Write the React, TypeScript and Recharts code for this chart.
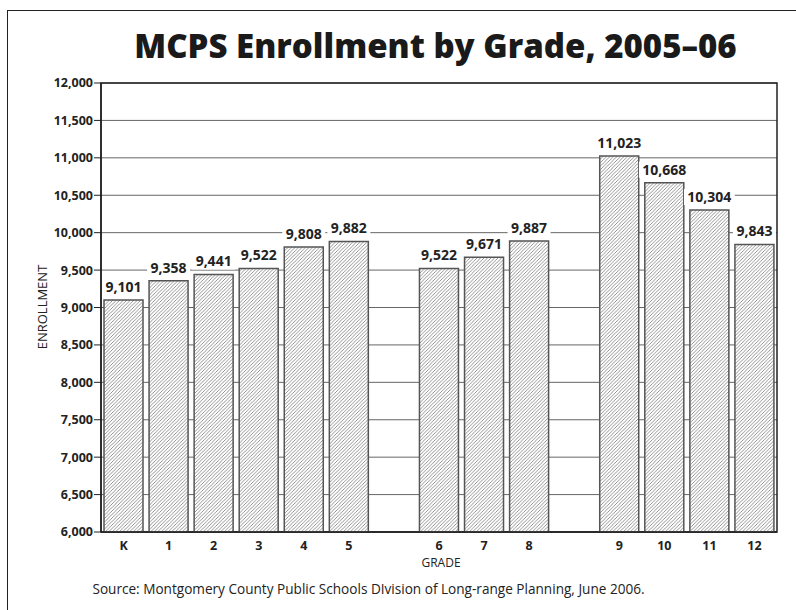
import { BarChart, Bar, XAxis, YAxis, CartesianGrid, ReferenceArea, LabelList } from "recharts";

const grades = ["K", "1", "2", "3", "4", "5", "6", "7", "8", "9", "10", "11", "12"];
const enrollment = [9101, 9358, 9441, 9522, 9808, 9882, 9522, 9671, 9887, 11023, 10668, 10304, 9843];
// an empty slot follows the last grade of elementary and of middle school
const levelBreaks = ["5", "8"];
const yTicks = [6000, 6500, 7000, 7500, 8000, 8500, 9000, 9500, 10000, 10500, 11000, 11500, 12000];

const rows: { grade: string; enrollment: number | null }[] = [];
grades.forEach((g, i) => {
  rows.push({ grade: g, enrollment: enrollment[i] });
  if (levelBreaks.includes(g)) rows.push({ grade: `gap-${g}`, enrollment: null });
});

const FONT = "'Open Sans', 'DejaVu Sans', sans-serif";
const fmt = (v: number) => v.toLocaleString("en-US");

function GradeTick({ x, y, payload }: any) {
  const v = String(payload?.value ?? "");
  if (v.startsWith("gap")) return null;
  return (
    <text x={x} y={y + 10} textAnchor="middle" fontFamily={FONT} fontSize={12.5} fontWeight={700} fill="#222">
      {v}
    </text>
  );
}

function ValueLabel({ x, y, width, value }: any) {
  if (value == null) return null;
  const txt = fmt(Number(value));
  const cx = Number(x) + Number(width) / 2;
  const base = Number(y) - 8;
  const w = txt.length * 7.8 + 4;
  return (
    <g>
      <rect x={cx - w / 2} y={base - 13} width={w} height={16} fill="#fff" />
      <text x={cx} y={base} textAnchor="middle" fontFamily={FONT} fontSize={14} fontWeight={700} fill="#222">
        {txt}
      </text>
    </g>
  );
}

export default function App() {
  return (
    <div style={{ position: "absolute", left: 0, top: 0, width: 796, height: 610, overflow: "hidden", background: "#fff", fontFamily: FONT }}>
      <div style={{ position: "absolute", left: 7, top: 10, width: 900, height: 700, border: "1.5px solid #222" }} />
      <svg width={0} height={0} style={{ position: "absolute" }}>
        <defs>
          <pattern id="hatch" patternUnits="userSpaceOnUse" width={3.5} height={3.5}>
            <rect width={3.5} height={3.5} fill="#fff" />
            <path d="M-1,1 L1,-1 M0,3.5 L3.5,0 M2.5,4.5 L4.5,2.5" stroke="#7a7a7a" strokeWidth={0.8} />
          </pattern>
        </defs>
      </svg>
      <div style={{ position: "absolute", left: 0, width: 871, top: 23, textAlign: "center", fontSize: 33, fontWeight: 800, color: "#1a1a1a", whiteSpace: "nowrap", lineHeight: "normal" }}>
        MCPS Enrollment by Grade, 2005–06
      </div>
      <div style={{ position: "absolute", left: 42, top: 307, width: 0, height: 0 }}>
        <div style={{ position: "absolute", transform: "translate(-50%, -50%) rotate(-90deg)", fontSize: 13, color: "#222", whiteSpace: "nowrap" }}>
          ENROLLMENT
        </div>
      </div>
      <div style={{ position: "absolute", left: 0, width: 882, top: 557, textAlign: "center", fontSize: 12, lineHeight: "12px", color: "#222" }}>
        GRADE
      </div>
      <div style={{ position: "absolute", left: 0, width: 737, top: 579, textAlign: "center", fontSize: 13.6, color: "#222", whiteSpace: "nowrap" }}>
        Source: Montgomery County Public Schools DIvision of Long-range Planning, June 2006.
      </div>
      <div style={{ position: "absolute", left: 0, top: 0 }}>
        <BarChart width={796} height={610} data={rows} margin={{ top: 83, right: 19, bottom: 48, left: 0 }}>
          <CartesianGrid vertical={false} stroke="#666" strokeWidth={1} />
          <XAxis dataKey="grade" height={30} tickLine={false} axisLine={{ stroke: "#222", strokeWidth: 1.5 }} tick={<GradeTick />} interval={0} />
          <YAxis
            type="number"
            domain={[6000, 12000]}
            ticks={yTicks}
            width={101}
            tickFormatter={fmt}
            tickSize={7}
            tickMargin={1}
            tickLine={{ stroke: "#222" }}
            axisLine={{ stroke: "#222", strokeWidth: 1.5 }}
            tick={{ fontFamily: FONT, fontSize: 12.5, fontWeight: 700, fill: "#222" }}
            allowDataOverflow
          />
          <ReferenceArea y1={6000} y2={12000} fill="none" stroke="#222" strokeWidth={1.5} ifOverflow="visible" />
          <Bar dataKey="enrollment" barSize={39} fill="url(#hatch)" stroke="#555" strokeWidth={1.5} isAnimationActive={false}>
            <LabelList dataKey="enrollment" content={<ValueLabel />} />
          </Bar>
        </BarChart>
      </div>
    </div>
  );
}
